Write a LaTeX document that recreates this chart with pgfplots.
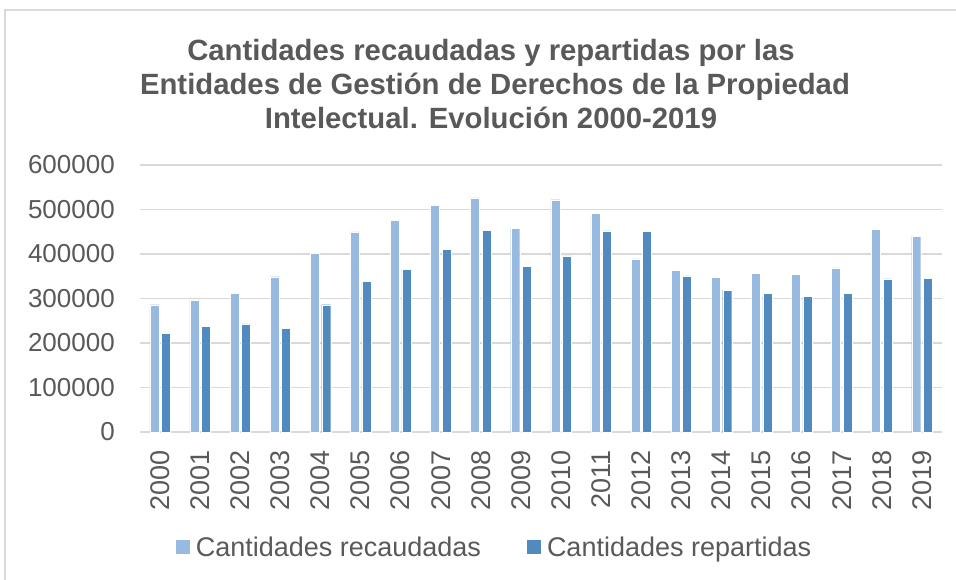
\documentclass[border=0pt]{standalone}
\usepackage{fontspec}
\setmainfont{Liberation Sans}
\usepackage{pgfplots}
\pgfplotsset{compat=1.18}
\definecolor{light}{RGB}{152,185,224}
\definecolor{dark}{RGB}{80,138,190}
\definecolor{txt}{RGB}{89,89,89}
\definecolor{gridc}{RGB}{217,217,217}
\begin{document}
\begin{tikzpicture}[x=1bp,y=1bp]
\path[use as bounding box] (0,0) rectangle (956,-580);
\draw[gridc, line width=1.5bp] (5,-582) -- (5,-10) -- (958,-10);
\begin{scope}[every node/.style={anchor=base, text=txt, inner sep=0pt, font=\fontsize{29.3bp}{34bp}\selectfont\bfseries}]
\node at (491,-61) {Cantidades recaudadas y repartidas por las};
\node at (495,-95) {Entidades de Gestión de Derechos de la Propiedad};
\node at (491,-129) {Intelectual. Evolución 2000-2019};
\end{scope}
\begin{axis}[
  at={(140bp,-432bp)}, anchor=south west,
  scale only axis, width=802bp, height=267bp,
  xmin=-0.5, xmax=19.5, ymin=0, ymax=600000,
  ybar=2.5bp, bar width=9bp,
  axis line style={draw=none},
  ymajorgrids, grid style={gridc, line width=1.5bp},
  major tick length=0pt,
  ytick={0,100000,200000,300000,400000,500000,600000},
  scaled y ticks=false,
  xtick={0,...,19},
  xticklabels={2000,2001,2002,2003,2004,2005,2006,2007,2008,2009,2010,2011,2012,2013,2014,2015,2016,2017,2018,2019},
  /pgf/number format/assume math mode=true,
  yticklabel={\pgfmathprintnumber[fixed,precision=0,set thousands separator={}]{\tick}},
  ticklabel style={font=\fontsize{26bp}{30bp}\selectfont, text=txt, inner sep=0pt},
  xticklabel style={rotate=90, anchor=east, font=\fontsize{27bp}{30bp}\selectfont},
  yticklabel style={anchor=east},
  xticklabel shift=18bp, yticklabel shift=25bp,
  legend columns=2,
  legend style={draw=none, fill=none, at={(0.442,-0.431)}, anchor=center,
    font=\fontsize{27bp}{30bp}\selectfont, text=txt,
    /tikz/every even column/.append style={column sep=44bp},
    /tikz/every odd column/.append style={column sep=4bp}},
  legend image code/.code={\path[#1, draw=none] (0bp,-7bp) rectangle (14bp,7bp);},
]
\addplot[fill=light, draw=white, line width=0.4bp] coordinates {
(0,286000) (1,297000) (2,312000) (3,349000) (4,402000) (5,450000) (6,476000) (7,510000) (8,526000) (9,457000)
(10,522000) (11,491000) (12,389000) (13,363000) (14,348000) (15,357000) (16,355000) (17,369000) (18,455000) (19,439000)};
\addplot[fill=dark, draw=white, line width=0.4bp] coordinates {
(0,222000) (1,237000) (2,243000) (3,233000) (4,286000) (5,339000) (6,366000) (7,410000) (8,453000) (9,372000)
(10,396000) (11,452000) (12,451000) (13,351000) (14,319000) (15,311000) (16,305000) (17,311000) (18,344000) (19,346000)};
\legend{Cantidades recaudadas, Cantidades repartidas}
\end{axis}
\end{tikzpicture}
\end{document}
